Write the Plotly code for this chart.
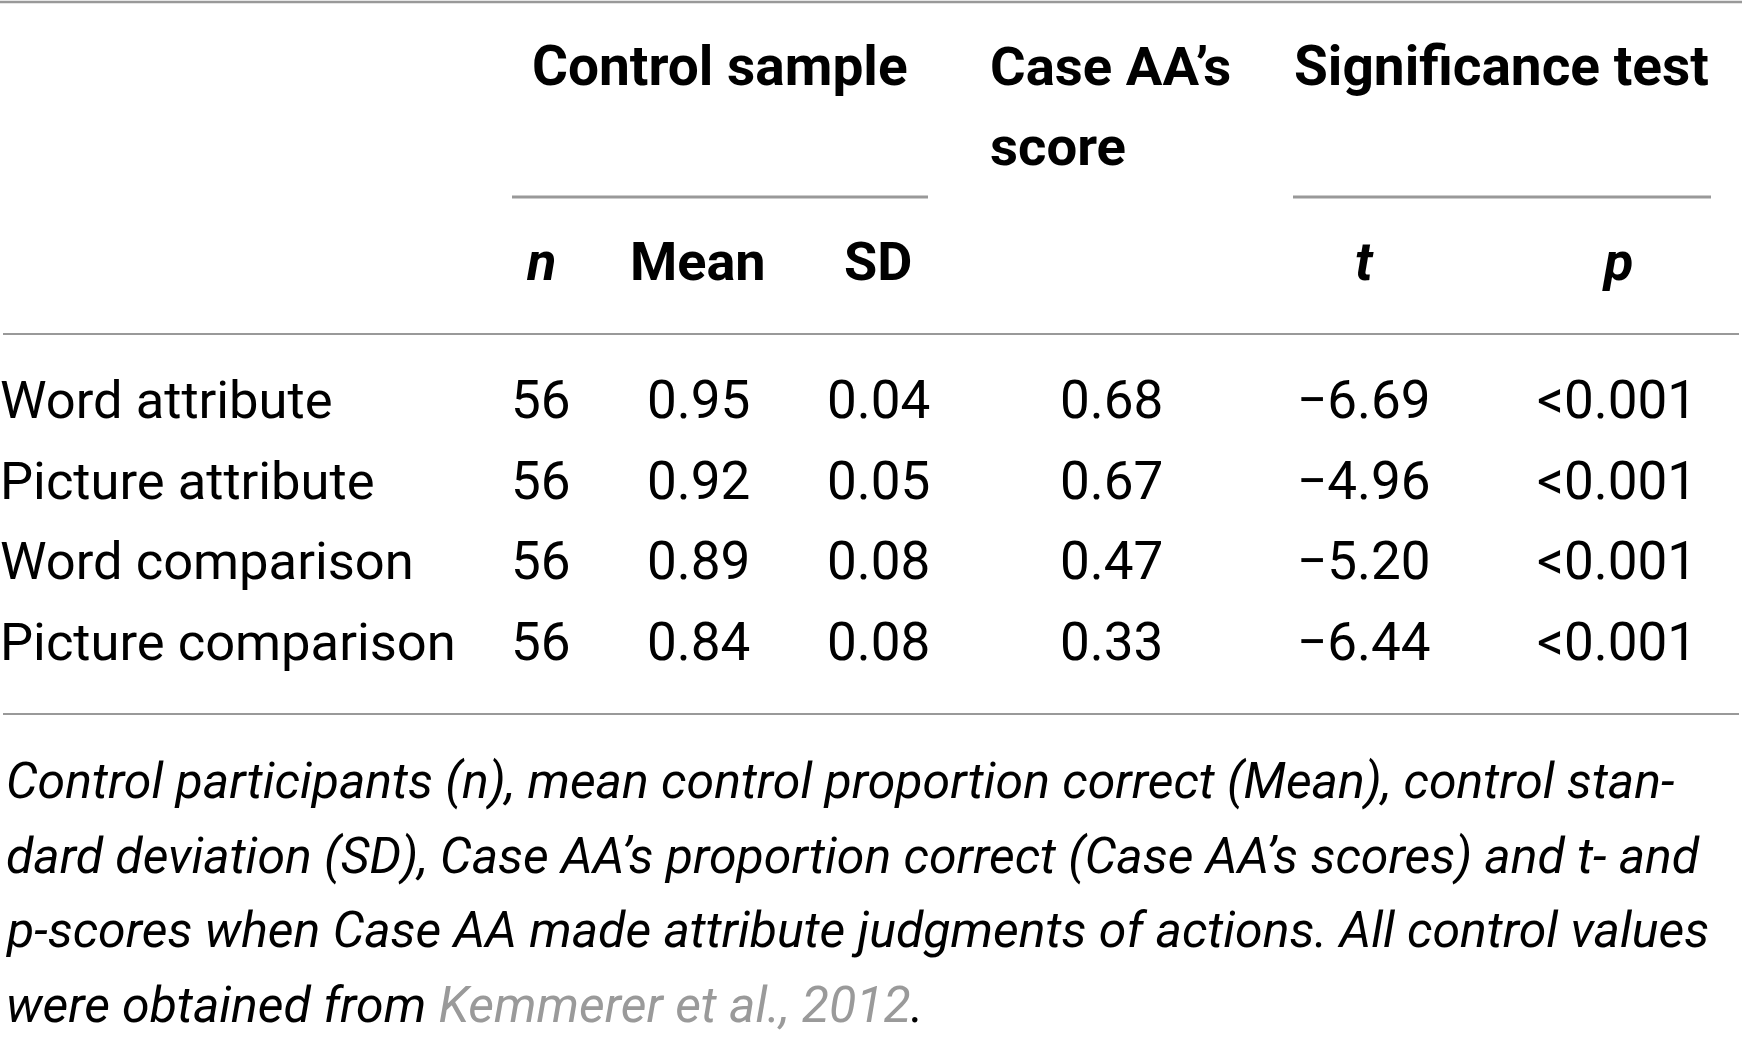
import plotly.graph_objects as go

# table data
row_labels = ["Word attribute", "Picture attribute", "Word comparison", "Picture comparison"]
n_values = [56, 56, 56, 56]
mean_values = [0.95, 0.92, 0.89, 0.84]
sd_values = [0.04, 0.05, 0.08, 0.08]
case_scores = [0.68, 0.67, 0.47, 0.33]
t_values = [-6.69, -4.96, -5.20, -6.44]
p_labels = ["<0.001", "<0.001", "<0.001", "<0.001"]

group_headers = ["Control sample", "Case AA\u2019s", "score", "Significance test"]
sub_headers = ["<i>n</i>", "Mean", "SD", "", "<i>t</i>", "<i>p</i>"]

caption_lines = [
    "Control participants (n), mean control proportion correct (Mean), control stan-",
    "dard deviation (SD), Case AA\u2019s proportion correct (Case AA\u2019s scores) and t- and",
    "p-scores when Case AA made attribute judgments of actions. All control values",
    "were obtained from <span style='color:#9a9a9a'>Kemmerer et al., 2012</span>.",
]

# layout (pixel space of the page)
W, H = 1742, 1038
col_x = [541, 698, 878, 1111, 1364, 1617]
row_y0, row_dy = 400, 80.5
cap_y0, cap_dy = 781, 74.5
FONT = "Roboto, sans-serif"
LINE = "#999999"


def fmt(v):
    s = "{:.2f}".format(abs(v))
    return ("\u2212" + s) if v < 0 else s


fig = go.Figure()
fig.add_trace(go.Scatter(x=[0, W], y=[0, H], mode="markers", marker=dict(opacity=0),
                         hoverinfo="skip", showlegend=False))

ann = []


def cell(x, y, text, anchor="center", size=53, color="black", bold=False, italic=False, dx=0):
    ann.append(dict(x=x, y=y, xref="x", yref="y", text=text, showarrow=False,
                    xanchor=anchor, yanchor="middle", xshift=dx,
                    font=dict(family=FONT, size=size, color=color,
                              weight="bold" if bold else "normal",
                              style="italic" if italic else "normal")))


# header rows
cell(720, 66, group_headers[0], bold=True, size=55)
cell(988, 66, group_headers[1], anchor="left", bold=True, size=54.5)
cell(988, 146, group_headers[2], anchor="left", bold=True, size=54.5)
cell(1501, 66, group_headers[3], bold=True, size=55)
for x, h in zip(col_x, sub_headers):
    if h:
        cell(x, 261, h, bold=True, size=54)

# data rows
for i, lab in enumerate(row_labels):
    y = row_y0 + i * row_dy
    cell(0, y, lab, anchor="left", dx=-2, size=52.5)
    cell(col_x[0], y, str(n_values[i]))
    cell(col_x[1], y, "{:.2f}".format(mean_values[i]))
    cell(col_x[2], y, "{:.2f}".format(sd_values[i]))
    cell(col_x[3], y, "{:.2f}".format(case_scores[i]))
    cell(col_x[4], y, fmt(t_values[i]))
    cell(col_x[5], y, p_labels[i].replace("<", "&lt;"))

# caption
for i, line in enumerate(caption_lines):
    cell(4, cap_y0 + i * cap_dy, line, anchor="left", size=50, italic=True)

shapes = [
    dict(type="line", x0=0, x1=W, y0=2, y1=2, line=dict(color=LINE, width=2.5)),
    dict(type="line", x0=512, x1=928, y0=197, y1=197, line=dict(color=LINE, width=3)),
    dict(type="line", x0=1293, x1=1711, y0=197, y1=197, line=dict(color=LINE, width=3)),
    dict(type="line", x0=3, x1=1739, y0=334, y1=334, line=dict(color=LINE, width=2)),
    dict(type="line", x0=3, x1=1739, y0=714, y1=714, line=dict(color=LINE, width=2)),
]
for s in shapes:
    s.update(xref="x", yref="y")

fig.update_layout(
    width=W, height=H,
    margin=dict(l=0, r=0, t=0, b=0),
    paper_bgcolor="white", plot_bgcolor="white",
    xaxis=dict(range=[0, W], visible=False, fixedrange=True),
    yaxis=dict(range=[H, 0], visible=False, fixedrange=True),
    annotations=ann, shapes=shapes,
)

fig.write_html("out.html", config={"displayModeBar": False},
               post_script="document.body.style.margin='0';")
